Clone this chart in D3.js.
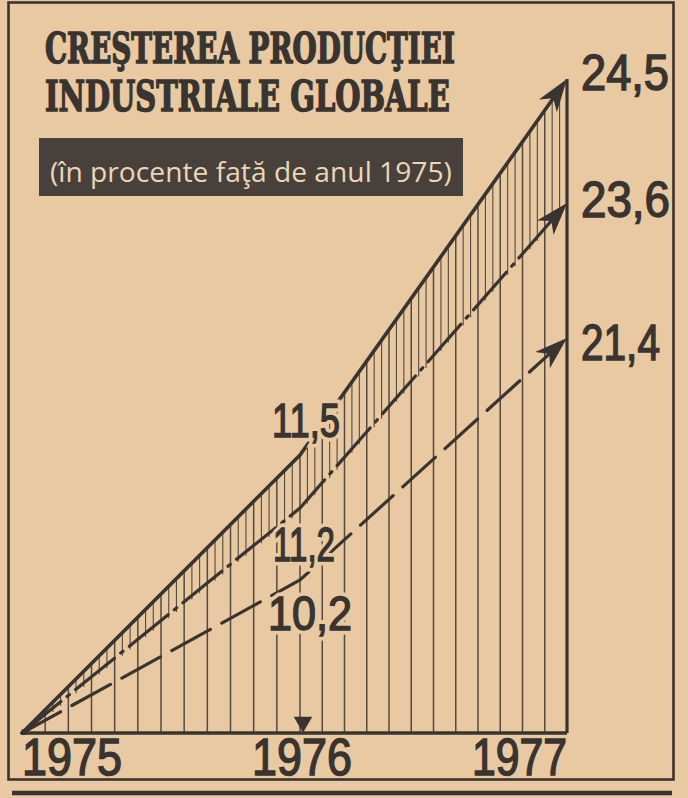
<!DOCTYPE html>
<html>
<head>
<meta charset="utf-8">
<script src="https://cdn.jsdelivr.net/npm/d3@7"></script>
<style>
  html, body { margin: 0; padding: 0; background: #e8c9a1; }
  svg { display: block; }
</style>
</head>
<body>
<div id="chart"></div>
<script>
// data
const years = [1975, 1976, 1977];
const totalGrowth = [0, 11.5, 24.5];   // solid line
const secondGrowth = [0, 11.2, 23.6];  // dash-dot line
const thirdGrowth = [0, 10.2, 21.4];   // dashed line
const titleLines = ["CREŞTEREA PRODUCŢIEI", "INDUSTRIALE GLOBALE"];
const subtitle = "(în procente faţă de anul 1975)";

const w = 688;
const h = 798;
const ink = "#3a3430";
const paper = "#e8c9a1";

const ro = d3.formatLocale({decimal: ",", thousands: ".", grouping: [3], currency: ["", " lei"]});
const fmt = ro.format(".1f");

const svg = d3.select("#chart")
  .append("svg")
  .attr("width", w)
  .attr("height", h);

svg.append("rect").attr("width", w).attr("height", h).attr("fill", paper);

const x = d3.scaleLinear()
  .domain(years)
  .range([22, 300, 567]);

// the original drawing is schematic: lines are pulled apart, not to scale
const allValues = Array.from(new Set([...totalGrowth, ...secondGrowth, ...thirdGrowth])).sort(d3.ascending);
const y = d3.scaleLinear()
  .domain(allValues)
  .range([733, 580, 508, 455, 338, 203, 79]);

const series = [
  {values: totalGrowth, dash: null, width: 3.6, labelDy: 11, labelW: 88},
  {values: secondGrowth, dash: "50 8 3 8", width: 3.2, labelDy: 14, labelW: 89},
  {values: thirdGrowth, dash: "44 13", width: 3.2, labelDy: 22, labelW: 79}
];
series.forEach(s => s.pts = years.map((yr, i) => [x(yr), y(s.values[i])]));

function yOn(pts, px) {
  for (let i = 0; i < pts.length - 1; i++) {
    const a = pts[i], b = pts[i + 1];
    if (px >= a[0] && px <= b[0]) {
      return a[1] + (b[1] - a[1]) * (px - a[0]) / (b[0] - a[0]);
    }
  }
  return pts[pts.length - 1][1];
}

// squeeze a text horizontally to a given width (anchor point kept)
function fit(sel, width, px, py) {
  sel.each(function(d, i) {
    const t = d3.select(this);
    const wd = typeof width === "function" ? width(d, i) : width;
    const ax = typeof px === "function" ? px(d, i) : px;
    const ay = typeof py === "function" ? py(d, i) : py;
    const natural = this.getComputedTextLength();
    t.attr("x", 0).attr("y", 0)
      .attr("transform", "translate(" + ax + "," + ay + ") scale(" + (wd / natural) + ",1)");
  });
}

// hatching: one long line per month, two short ones between
const hatch = d3.range(1, 72).map(k => ({t: 1975 + k / 36, full: k % 3 === 0}));
svg.append("g")
  .selectAll("line")
  .data(hatch)
  .enter()
  .append("line")
  .attr("x1", d => x(d.t))
  .attr("x2", d => x(d.t))
  .attr("y1", d => yOn(series[0].pts, x(d.t)))
  .attr("y2", d => d.full ? y(0) : yOn(series[1].pts, x(d.t)) + 4)
  .attr("stroke", ink)
  .attr("stroke-opacity", 0.85)
  .attr("stroke-width", d => d.full ? 1.5 : 1.1);

// baseline and 1977 line
svg.append("line")
  .attr("x1", x(1975)).attr("x2", x(1977))
  .attr("y1", y(0)).attr("y2", y(0))
  .attr("stroke", ink).attr("stroke-width", 3.6);
svg.append("line")
  .attr("x1", x(1977)).attr("x2", x(1977))
  .attr("y1", y(0)).attr("y2", y(24.5))
  .attr("stroke", ink).attr("stroke-width", 3.2);

function shorten(a, b, by) {
  const dx = b[0] - a[0], dy = b[1] - a[1];
  const len = Math.hypot(dx, dy);
  return [b[0] - dx / len * by, b[1] - dy / len * by];
}

const line = d3.line();
svg.append("g")
  .selectAll("path")
  .data(series)
  .enter()
  .append("path")
  .attr("d", d => line(d.pts.slice(0, 2).concat([shorten(d.pts[1], d.pts[2], 20)])))
  .attr("fill", "none")
  .attr("stroke", ink)
  .attr("stroke-width", d => d.width)
  .attr("stroke-dasharray", d => d.dash)
  .attr("stroke-linecap", "round");

// arrow heads
svg.append("g")
  .selectAll("path")
  .data(series)
  .enter()
  .append("path")
  .attr("d", d => {
    const a = d.pts[1], b = d.pts[2];
    const dx = b[0] - a[0], dy = b[1] - a[1];
    const len = Math.hypot(dx, dy);
    const ux = dx / len, uy = dy / len;
    const L = 33, W = 11;
    const bx = b[0] - ux * L, by = b[1] - uy * L;
    return "M" + b[0] + "," + b[1] +
      "L" + (bx - uy * W) + "," + (by + ux * W) +
      "L" + (b[0] - ux * L * 0.72) + "," + (b[1] - uy * L * 0.72) +
      "L" + (bx + uy * W) + "," + (by - ux * W) + "Z";
  })
  .attr("fill", ink);

// 1976 marker
svg.append("path")
  .attr("d", d3.symbol(d3.symbolTriangle, 150))
  .attr("transform", "translate(" + (x(1976) + 3) + "," + (y(0) - 11) + ") rotate(180)")
  .attr("fill", ink);

// origin blob
svg.append("circle").attr("cx", x(1975) + 2).attr("cy", y(0) - 1).attr("r", 3).attr("fill", ink);

const numFont = "'Liberation Sans', Arial, sans-serif";

function numText(sel) {
  return sel
    .attr("font-family", numFont)
    .attr("font-weight", "normal")
    .attr("fill", ink)
    .attr("stroke", ink)
    .attr("stroke-width", 1.5);
}

// value labels at 1977
svg.append("g")
  .selectAll("text")
  .data(series)
  .enter()
  .append("text")
  .attr("font-size", 50)
  .call(numText)
  .text(d => fmt(d.values[2]))
  .call(fit, d => d.labelW, 581, d => y(d.values[2]) + d.labelDy);

// value labels at 1976, knocked out of the hatching
const midLabelPos = [[306, -18], [304, 53], [310, 50]];
const midLabelW = [68, 62, 84];
const midG = svg.append("g")
  .selectAll("g")
  .data(series)
  .enter()
  .append("g");
midG.append("text")
  .attr("text-anchor", "middle")
  .attr("font-family", numFont)
  .attr("font-size", 48)
  .attr("fill", paper)
  .attr("stroke", paper)
  .attr("stroke-width", 9)
  .text(d => fmt(d.values[1]))
  .call(fit, (d, i) => midLabelW[i], (d, i) => midLabelPos[i][0], (d, i) => y(d.values[1]) + midLabelPos[i][1]);
midG.append("text")
  .attr("text-anchor", "middle")
  .attr("font-size", 48)
  .call(numText)
  .text(d => fmt(d.values[1]))
  .call(fit, (d, i) => midLabelW[i], (d, i) => midLabelPos[i][0], (d, i) => y(d.values[1]) + midLabelPos[i][1]);

// year labels
svg.append("g")
  .selectAll("text")
  .data(years)
  .enter()
  .append("text")
  .attr("text-anchor", (d, i) => ["start", "middle", "end"][i])
  .attr("font-size", 51)
  .call(numText)
  .text(d => d)
  .call(fit, d => d === 1977 ? 95 : 100, d => x(d) + (d === 1976 ? 2 : 0), 775);

// title
svg.append("g")
  .selectAll("text")
  .data(titleLines)
  .enter()
  .append("text")
  .attr("font-family", "'DejaVu Serif', serif")
  .attr("font-size", 42)
  .attr("font-weight", "bold")
  .attr("fill", ink)
  .attr("stroke", ink)
  .attr("stroke-width", 1.6)
  .text(d => d)
  .call(fit, (d, i) => i === 0 ? 410 : 405, 45, (d, i) => 63 + i * 48);

svg.append("rect")
  .attr("x", 39).attr("y", 138)
  .attr("width", 424).attr("height", 58)
  .attr("fill", "#47403b");
svg.append("text")
  .attr("font-family", "'Open Sans', sans-serif")
  .attr("font-size", 27)
  .attr("fill", "#ecd6b6")
  .text(subtitle)
  .call(fit, 402, 50, 182);

// frame
svg.append("rect")
  .attr("x", 8.5).attr("y", 2.5)
  .attr("width", 665).attr("height", 777)
  .attr("fill", "none")
  .attr("stroke", ink)
  .attr("stroke-width", 2.6);
svg.append("line")
  .attr("x1", 12).attr("x2", 672)
  .attr("y1", 793).attr("y2", 793)
  .attr("stroke", ink)
  .attr("stroke-width", 4.5);
</script>
</body>
</html>
